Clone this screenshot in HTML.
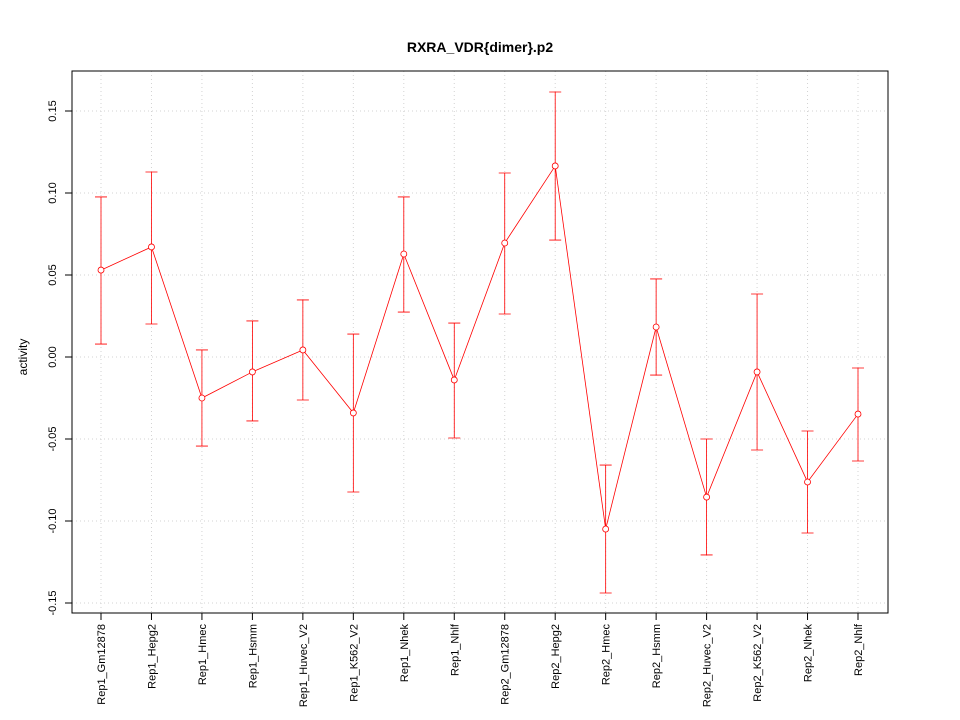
<!DOCTYPE html>
<html><head><meta charset="utf-8"><style>
body{margin:0;background:#fff}
svg{display:block;font-family:"Liberation Sans",sans-serif}
</style></head><body>
<svg id="chart" width="960" height="720" xmlns="http://www.w3.org/2000/svg">
<rect width="960" height="720" fill="#fff"/>
<text x="480" y="52" text-anchor="middle" font-size="14" font-weight="bold">RXRA_VDR{dimer}.p2</text>
<text transform="translate(27,357) rotate(-90)" text-anchor="middle" font-size="12">activity</text>
<g id="grid"></g><g id="axes"></g><g id="marks"></g>
<rect x="72" y="71" width="816" height="542" fill="none" stroke="#000"/>
</svg>
<script>
const categories=["Rep1_Gm12878","Rep1_Hepg2","Rep1_Hmec","Rep1_Hsmm","Rep1_Huvec_V2","Rep1_K562_V2","Rep1_Nhek","Rep1_Nhlf","Rep2_Gm12878","Rep2_Hepg2","Rep2_Hmec","Rep2_Hsmm","Rep2_Huvec_V2","Rep2_K562_V2","Rep2_Nhek","Rep2_Nhlf"];
const values=[0.0530,0.0671,-0.0250,-0.0091,0.0043,-0.0341,0.0628,-0.0140,0.0695,0.1165,-0.1049,0.0183,-0.0854,-0.0091,-0.0762,-0.0348];
const upper=[0.0976,0.1128,0.0043,0.0220,0.0348,0.0140,0.0976,0.0207,0.1122,0.1616,-0.0659,0.0476,-0.0500,0.0384,-0.0451,-0.0067];
const lower=[0.0079,0.0201,-0.0543,-0.0390,-0.0262,-0.0823,0.0274,-0.0494,0.0262,0.0713,-0.1439,-0.0110,-0.1207,-0.0567,-0.1073,-0.0634];
const yTicks=[-0.15,-0.10,-0.05,0.00,0.05,0.10,0.15];
const yTickLabels=["-0.15","-0.10","-0.05","0.00","0.05","0.10","0.15"];
const NS="http://www.w3.org/2000/svg";
function x(i){return 101+i*(858-101)/(categories.length-1);}
function y(v){return 357-v*1640;}
function mk(tag,attrs,parent,text){const e=document.createElementNS(NS,tag);for(const k in attrs)e.setAttribute(k,attrs[k]);if(text!==undefined)e.textContent=text;parent.appendChild(e);return e;}
const grid=document.getElementById('grid'),axes=document.getElementById('axes'),marks=document.getElementById('marks');
categories.forEach((c,i)=>{
  const g=mk('line',{x1:x(i),x2:x(i),y1:71,y2:613,stroke:'#d3d3d3','stroke-dasharray':'1,3'},grid);
  
  
  const t=mk('line',{x1:x(i),x2:x(i),y1:613,y2:620,stroke:'#000'},axes);
  
  
  const l=mk('text',{transform:`translate(${x(i)+4},624) rotate(-90)`,'text-anchor':'end','font-size':'11'},axes,c);
  
  
});
yTicks.forEach((v,i)=>{
  const g=mk('line',{x1:72,x2:888,y1:y(v),y2:y(v),stroke:'#d3d3d3','stroke-dasharray':'1,3'},grid);
  
  
  const t=mk('line',{x1:65,x2:72,y1:y(v),y2:y(v),stroke:'#000'},axes);
  
  
  const l=mk('text',{transform:`translate(56,${y(v)}) rotate(-90)`,'text-anchor':'middle','font-size':'11'},axes,yTickLabels[i]);
  
  
});
const pts=values.map((v,i)=>x(i)+','+y(v)).join(' ');
const line=mk('polyline',{points:pts,fill:'none',stroke:'#f00','stroke-width':0.8},marks);


values.forEach((v,i)=>{
  const eb=mk('path',{d:`M${x(i)},${y(upper[i])}V${y(lower[i])}M${x(i)-6},${y(upper[i])}H${x(i)+6}M${x(i)-6},${y(lower[i])}H${x(i)+6}`,stroke:'#f00',fill:'none','stroke-width':0.8},marks);
  
  
  const p=mk('circle',{cx:x(i),cy:y(v),r:3,fill:'#fff',stroke:'#f00','stroke-width':0.8},marks);
  
  
});
</script>
</body></html>
